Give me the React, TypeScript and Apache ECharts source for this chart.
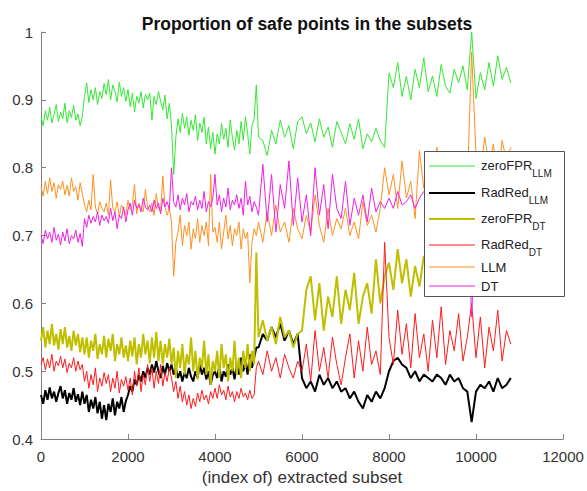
import React, { useEffect, useRef } from "react";
import * as echarts from "echarts";

// Subsets 0..4950 sampled every 50, subsets 5000..10800 sampled every 100
const DENSE_STEP = 50;
const DENSE_END = 5000;
const SPARSE_STEP = 100;

const zeroFPR_LLM = [
  0.875, 0.862, 0.884, 0.87, 0.889, 0.866, 0.878, 0.893, 0.868, 0.882,
  0.872, 0.895, 0.866, 0.884, 0.874, 0.892, 0.87, 0.879, 0.862, 0.876,
  0.905, 0.925, 0.896, 0.915, 0.9, 0.918, 0.893, 0.912, 0.902, 0.924,
  0.908, 0.93, 0.9, 0.922, 0.912, 0.897, 0.926, 0.905, 0.918, 0.898,
  0.915, 0.89, 0.91, 0.882, 0.905, 0.895, 0.912, 0.888, 0.908, 0.9,
  0.91, 0.87, 0.905, 0.893, 0.912, 0.898, 0.885, 0.907, 0.872, 0.895,
  0.862, 0.79, 0.845, 0.872, 0.852, 0.88, 0.858, 0.875, 0.848, 0.87,
  0.855, 0.878, 0.84, 0.866, 0.852, 0.874, 0.835, 0.86, 0.828, 0.852,
  0.82, 0.85, 0.835, 0.865, 0.842, 0.858, 0.83, 0.87, 0.845, 0.826,
  0.855, 0.835, 0.868, 0.84, 0.875, 0.85, 0.82, 0.862, 0.872, 0.922,
  0.845, 0.84, 0.818, 0.855, 0.835, 0.87, 0.845, 0.862, 0.828, 0.868,
  0.875, 0.85, 0.866, 0.838, 0.872, 0.845, 0.86, 0.83, 0.868, 0.852,
  0.835, 0.865, 0.842, 0.872, 0.828, 0.85, 0.838, 0.858, 0.84, 0.83,
  0.94, 0.918, 0.955, 0.905, 0.935, 0.9, 0.945, 0.918, 0.962, 0.912,
  0.935, 0.905, 0.952, 0.92, 0.91, 0.945, 0.925, 0.95, 0.915, 1.0,
  0.902, 0.94, 0.915, 0.955, 0.92, 0.965, 0.93, 0.948, 0.925,
];

const radRed_LLM = [
  0.465, 0.452, 0.472, 0.458, 0.476, 0.46, 0.47, 0.455, 0.468, 0.478,
  0.46, 0.472, 0.452, 0.468, 0.458, 0.475, 0.455, 0.466, 0.45, 0.47,
  0.452, 0.465, 0.44, 0.458, 0.445, 0.462, 0.438, 0.455, 0.43, 0.45,
  0.428, 0.452, 0.44, 0.46, 0.435, 0.455, 0.445, 0.462, 0.44, 0.456,
  0.465, 0.478, 0.47, 0.488, 0.48, 0.495, 0.485, 0.5, 0.49, 0.505,
  0.495, 0.51, 0.498, 0.515, 0.5, 0.49, 0.508, 0.495, 0.512, 0.5,
  0.51, 0.495, 0.505, 0.49, 0.5, 0.485, 0.498, 0.49, 0.505, 0.492,
  0.485, 0.5, 0.49, 0.51, 0.495, 0.505, 0.488, 0.5, 0.48, 0.495,
  0.5, 0.49, 0.508, 0.485, 0.5, 0.492, 0.51, 0.495, 0.505, 0.488,
  0.51, 0.495, 0.52, 0.5, 0.515, 0.495, 0.525, 0.505, 0.52, 0.535,
  0.535, 0.555, 0.545, 0.565, 0.55, 0.57, 0.545, 0.56, 0.54, 0.555,
  0.49, 0.475, 0.485, 0.47, 0.495, 0.48, 0.49, 0.475, 0.485, 0.47,
  0.475, 0.46, 0.47, 0.455, 0.445, 0.465, 0.455, 0.47, 0.46, 0.475,
  0.5, 0.515, 0.52, 0.51, 0.505, 0.49, 0.5, 0.485, 0.495, 0.49,
  0.485, 0.495, 0.49, 0.48, 0.495, 0.485, 0.49, 0.475, 0.47, 0.425,
  0.47, 0.48, 0.475, 0.485, 0.47, 0.49, 0.475, 0.48, 0.49,
];

const zeroFPR_DT = [
  0.545, 0.565, 0.535, 0.56, 0.54, 0.57, 0.538, 0.555, 0.532, 0.562,
  0.54, 0.565, 0.535, 0.552, 0.53, 0.56, 0.538, 0.555, 0.528, 0.55,
  0.525, 0.55, 0.52, 0.545, 0.53, 0.555, 0.518, 0.54, 0.525, 0.552,
  0.52, 0.548, 0.53, 0.555, 0.515, 0.54, 0.525, 0.55, 0.52, 0.538,
  0.515, 0.545, 0.522, 0.55, 0.51, 0.54, 0.52, 0.555, 0.525, 0.545,
  0.512, 0.55, 0.52, 0.558, 0.515, 0.545, 0.51, 0.54, 0.52, 0.548,
  0.51, 0.535, 0.49, 0.53, 0.505, 0.54, 0.495, 0.525, 0.51, 0.55,
  0.5, 0.53, 0.488, 0.52, 0.505, 0.545, 0.495, 0.525, 0.48, 0.515,
  0.5, 0.53, 0.49, 0.54, 0.505, 0.525, 0.485, 0.52, 0.5, 0.545,
  0.495, 0.52, 0.49, 0.53, 0.505, 0.54, 0.5, 0.53, 0.51, 0.675,
  0.55, 0.575, 0.545, 0.565, 0.54, 0.58, 0.55, 0.56, 0.535, 0.555,
  0.56, 0.62, 0.64, 0.575, 0.63, 0.56, 0.61, 0.58, 0.64, 0.57,
  0.62, 0.59, 0.645, 0.57, 0.61, 0.63, 0.585, 0.665, 0.6, 0.64,
  0.66, 0.62, 0.68, 0.63, 0.665, 0.61, 0.655, 0.625, 0.67, 0.635,
  0.65, 0.62, 0.665, 0.63, 0.655, 0.615, 0.66, 0.635, 0.645, 0.62,
  0.655, 0.625, 0.665, 0.64, 0.65, 0.62, 0.66, 0.635, 0.645,
];

const radRed_DT = [
  0.51, 0.52, 0.502, 0.518, 0.505, 0.525, 0.5, 0.515, 0.508, 0.522,
  0.505, 0.518, 0.498, 0.512, 0.505, 0.52, 0.5, 0.515, 0.502, 0.51,
  0.485, 0.5, 0.475, 0.495, 0.48, 0.505, 0.47, 0.49, 0.478, 0.498,
  0.482, 0.495, 0.47, 0.49, 0.475, 0.5, 0.468, 0.488, 0.478, 0.492,
  0.472, 0.49, 0.465, 0.5, 0.478, 0.505, 0.47, 0.495, 0.48, 0.51,
  0.485, 0.505, 0.475, 0.5, 0.482, 0.51, 0.478, 0.498, 0.485, 0.505,
  0.49, 0.47, 0.485, 0.46, 0.478, 0.455, 0.47, 0.45, 0.465, 0.445,
  0.46, 0.448, 0.468, 0.455, 0.472, 0.458, 0.465, 0.452, 0.47, 0.46,
  0.475, 0.46, 0.48, 0.465, 0.472, 0.458, 0.478, 0.462, 0.47, 0.455,
  0.47, 0.46, 0.475, 0.462, 0.468, 0.458, 0.472, 0.46, 0.465, 0.505,
  0.515, 0.495, 0.53, 0.5, 0.52, 0.49, 0.525, 0.505, 0.49, 0.515,
  0.5, 0.54, 0.485, 0.56, 0.5, 0.535, 0.49, 0.55, 0.51, 0.48,
  0.52, 0.555, 0.49, 0.545, 0.5, 0.565, 0.51, 0.53, 0.495, 0.69,
  0.55, 0.51, 0.59, 0.525, 0.57, 0.505, 0.585, 0.52, 0.555, 0.5,
  0.575, 0.52, 0.595, 0.51, 0.56, 0.53, 0.585, 0.515, 0.55, 0.6,
  0.52, 0.58, 0.505, 0.565, 0.53, 0.59, 0.515, 0.56, 0.54,
];

const LLM = [
  0.772, 0.758, 0.78, 0.762, 0.785, 0.765, 0.778, 0.755, 0.775, 0.768,
  0.78, 0.76, 0.774, 0.758, 0.785, 0.765, 0.772, 0.752, 0.778, 0.762,
  0.745, 0.735, 0.752, 0.738, 0.79, 0.742, 0.732, 0.75, 0.74, 0.735,
  0.748, 0.73, 0.782, 0.74, 0.735, 0.75, 0.728, 0.745, 0.738, 0.73,
  0.752, 0.738, 0.745, 0.775, 0.732, 0.748, 0.74, 0.735, 0.768, 0.742,
  0.735, 0.748, 0.73, 0.762, 0.74, 0.735, 0.788, 0.742, 0.73, 0.74,
  0.72, 0.64, 0.69, 0.705, 0.73, 0.685, 0.715, 0.7, 0.72, 0.68,
  0.71, 0.695, 0.725, 0.69, 0.715, 0.7, 0.72, 0.685, 0.79, 0.705,
  0.712, 0.69, 0.72, 0.68, 0.705, 0.73, 0.695, 0.715, 0.685, 0.71,
  0.7, 0.72, 0.68, 0.71, 0.695, 0.705, 0.63, 0.69, 0.71, 0.7,
  0.72, 0.69, 0.735, 0.7, 0.745, 0.705, 0.72, 0.69, 0.74, 0.71,
  0.695, 0.73, 0.705, 0.76, 0.715, 0.69, 0.74, 0.7, 0.725, 0.71,
  0.74, 0.7, 0.72, 0.695, 0.75, 0.715, 0.73, 0.705, 0.74, 0.8,
  0.76, 0.79, 0.74, 0.81, 0.755, 0.78, 0.725, 0.825, 0.77, 0.8,
  0.76, 0.83, 0.78, 0.815, 0.75, 0.79, 0.765, 0.81, 0.775, 0.97,
  0.82, 0.79, 0.845, 0.805, 0.835, 0.78, 0.84, 0.81, 0.83,
];

const DT = [
  0.7, 0.688, 0.708, 0.695, 0.705, 0.69, 0.712, 0.693, 0.702, 0.686,
  0.705, 0.692, 0.71, 0.688, 0.7, 0.695, 0.708, 0.69, 0.703, 0.684,
  0.725, 0.712, 0.73, 0.718, 0.728, 0.72, 0.735, 0.715, 0.73, 0.722,
  0.728, 0.718, 0.74, 0.722, 0.735, 0.71, 0.73, 0.725, 0.742, 0.72,
  0.738, 0.748, 0.73, 0.752, 0.74, 0.745, 0.735, 0.755, 0.742, 0.738,
  0.745, 0.735, 0.752, 0.74, 0.748, 0.732, 0.755, 0.742, 0.75, 0.738,
  0.8, 0.75, 0.742, 0.76, 0.738, 0.755, 0.745, 0.762, 0.735, 0.75,
  0.745, 0.758, 0.738, 0.752, 0.74, 0.765, 0.735, 0.75, 0.742, 0.755,
  0.79, 0.745, 0.76, 0.735, 0.755, 0.742, 0.77, 0.738, 0.752, 0.745,
  0.76, 0.74, 0.755, 0.73, 0.78, 0.745, 0.758, 0.735, 0.75, 0.742,
  0.73, 0.805, 0.72, 0.79, 0.705, 0.775, 0.74, 0.81, 0.715, 0.785,
  0.72, 0.76, 0.7, 0.8, 0.73, 0.775, 0.71, 0.79, 0.74, 0.725,
  0.78, 0.715, 0.755, 0.73, 0.76, 0.72, 0.77, 0.735, 0.75, 0.74,
  0.755, 0.74, 0.765, 0.745, 0.75, 0.76, 0.74, 0.755, 0.765, 0.745,
  0.76, 0.75, 0.74, 0.765, 0.75, 0.755, 0.745, 0.76, 0.75, 0.58,
  0.75, 0.76, 0.745, 0.755, 0.765, 0.75, 0.76, 0.745, 0.755,
];

const xTickLabels = ["0", "2000", "4000", "6000", "8000", "10000", "12000"];
const yTickLabels = ["0.4", "0.5", "0.6", "0.7", "0.8", "0.9", "1"];

const seriesDefs = [
  { name: "zeroFPR_LLM", main: "zeroFPR", sub: "LLM", data: zeroFPR_LLM, color: "#33e833", width: 1 },
  { name: "RadRed_LLM", main: "RadRed", sub: "LLM", data: radRed_LLM, color: "#000000", width: 2 },
  { name: "zeroFPR_DT", main: "zeroFPR", sub: "DT", data: zeroFPR_DT, color: "#bfbf00", width: 2 },
  { name: "RadRed_DT", main: "RadRed", sub: "DT", data: radRed_DT, color: "#ff1a1a", width: 1 },
  { name: "LLM", main: "LLM", sub: "", data: LLM, color: "#ff9022", width: 1 },
  { name: "DT", main: "DT", sub: "", data: DT, color: "#f020e0", width: 1 },
];

const legendRowY = [166, 193, 219, 245, 267, 286];

const FONT = '"Liberation Sans", Arial, Helvetica, sans-serif';

function subsetIndex(i: number): number {
  const denseCount = DENSE_END / DENSE_STEP;
  return i < denseCount ? i * DENSE_STEP : DENSE_END + (i - denseCount) * SPARSE_STEP;
}

export default function App() {
  const ref = useRef<HTMLDivElement>(null);

  useEffect(() => {
    if (!ref.current) return;
    const chart = echarts.init(ref.current, undefined, { renderer: "svg" });

    const series = seriesDefs.map((s) => ({
      name: s.name,
      type: "line",
      data: s.data.map((v, i) => [subsetIndex(i), v]),
      symbol: "none",
      lineStyle: { color: s.color, width: s.width },
      itemStyle: { color: s.color },
    }));

    const legendElements: any[] = [
      {
        type: "rect",
        shape: { x: 424.5, y: 151.5, width: 140, height: 145 },
        style: { fill: "#ffffff", stroke: "#555555", lineWidth: 1 },
        z: 100,
      },
    ];
    seriesDefs.forEach((s, k) => {
      const y = legendRowY[k];
      legendElements.push({
        type: "line",
        shape: { x1: 429, y1: y, x2: 475, y2: y },
        style: { stroke: s.color, lineWidth: s.width },
        z: 101,
      });
      if (s.sub) {
        legendElements.push({
          type: "text",
          x: 481,
          y: y + 7,
          style: {
            text: `{a|${s.main}}{b|${s.sub}}`,
            verticalAlign: "middle",
            align: "left",
            fill: "#222",
            rich: {
              a: { fontSize: 13, fontFamily: FONT, lineHeight: 14, verticalAlign: "top", fill: "#222" },
              b: { fontSize: 10, fontFamily: FONT, lineHeight: 28, verticalAlign: "middle", fill: "#222" },
            },
          },
          z: 101,
        });
      } else {
        legendElements.push({
          type: "text",
          x: 481,
          y: y,
          style: {
            text: s.main,
            fontSize: 13,
            fontFamily: FONT,
            verticalAlign: "middle",
            align: "left",
            fill: "#222",
          },
          z: 101,
        });
      }
    });

    chart.setOption({
      animation: false,
      backgroundColor: "#ffffff",
      title: {
        text: "Proportion of safe points in the subsets",
        left: 302,
        top: 10,
        textAlign: "center",
        textStyle: { fontSize: 17.5, fontWeight: "bold", color: "#111", fontFamily: FONT },
      },
      grid: { left: 41, right: 24, top: 32, bottom: 50 },
      xAxis: {
        type: "value",
        min: 0,
        max: 12000,
        interval: 2000,
        name: "(index of) extracted subset",
        nameLocation: "middle",
        nameGap: 29,
        nameTextStyle: { fontSize: 17, color: "#333", fontFamily: FONT },
        axisLine: { onZero: false, lineStyle: { color: "#808080", width: 1 } },
        axisTick: { inside: true, length: 5, lineStyle: { color: "#808080" } },
        axisLabel: {
          fontSize: 15,
          color: "#333",
          margin: 10,
          fontFamily: FONT,
          formatter: (v: number) => xTickLabels[Math.round(v / 2000)] ?? String(v),
        },
        splitLine: { show: false },
      },
      yAxis: {
        type: "value",
        min: 0.4,
        max: 1,
        interval: 0.1,
        axisLine: { show: true, onZero: false, lineStyle: { color: "#808080", width: 1 } },
        axisTick: { show: true, inside: true, length: 5, lineStyle: { color: "#808080" } },
        axisLabel: {
          fontSize: 15,
          color: "#333",
          margin: 8,
          fontFamily: FONT,
          formatter: (v: number) => yTickLabels[Math.round((v - 0.4) * 10)] ?? String(v),
        },
        splitLine: { show: false },
      },
      series,
      graphic: legendElements,
    });

    return () => chart.dispose();
  }, []);

  return (
    <div
      ref={ref}
      style={{ position: "fixed", left: 0, top: 0, width: 587, height: 491, background: "#fff" }}
    />
  );
}
